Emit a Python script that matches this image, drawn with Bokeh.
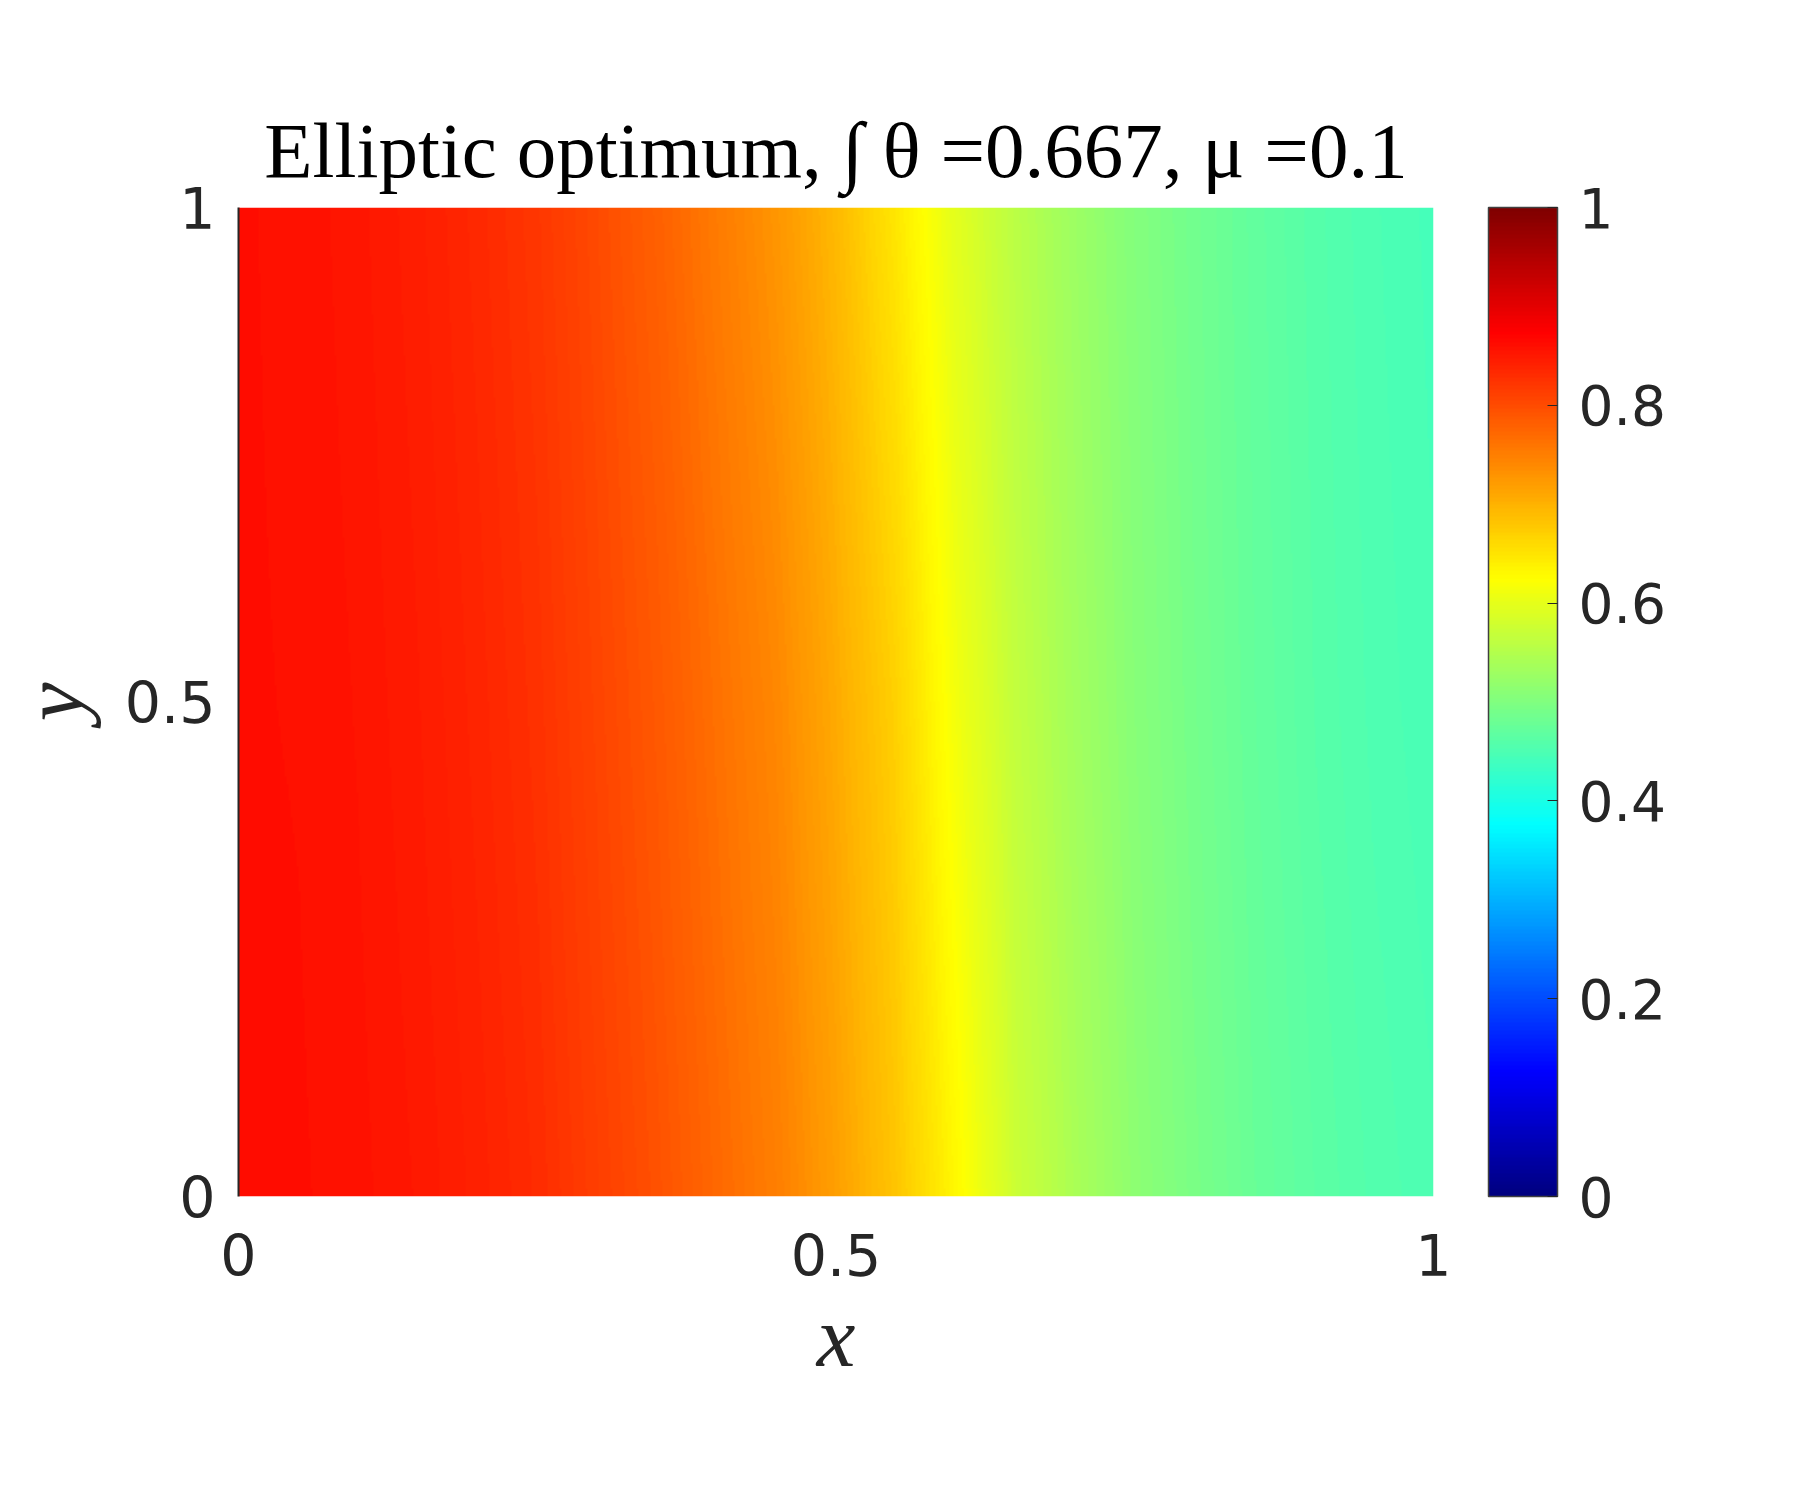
import numpy as np
from bokeh.plotting import figure
from bokeh.models import LinearColorMapper, ColorBar, FixedTicker, Title
from bokeh.embed import file_html
from bokeh.resources import INLINE

# ---- data (theta along x, at three heights) ----
x_nodes = [0.00, 0.05, 0.10, 0.15, 0.20, 0.25, 0.30, 0.35, 0.40, 0.45, 0.50,
           0.55, 0.60, 0.65, 0.70, 0.75, 0.80, 0.85, 0.90, 0.95, 1.00]
y_nodes = [0.0, 0.5, 1.0]
theta_y0 = [0.861, 0.860, 0.857, 0.851, 0.842, 0.831, 0.813, 0.795, 0.772, 0.750, 0.718,
            0.681, 0.632, 0.574, 0.542, 0.514, 0.494, 0.477, 0.465, 0.456, 0.450]
theta_y05 = [0.860, 0.859, 0.855, 0.848, 0.838, 0.826, 0.807, 0.788, 0.764, 0.741, 0.707,
             0.670, 0.613, 0.565, 0.534, 0.508, 0.489, 0.473, 0.461, 0.452, 0.446]
theta_y1 = [0.860, 0.858, 0.853, 0.845, 0.834, 0.821, 0.801, 0.780, 0.754, 0.728, 0.693,
            0.648, 0.597, 0.557, 0.528, 0.504, 0.486, 0.471, 0.459, 0.450, 0.444]

x_ticks = [0, 0.5, 1]
x_tick_labels = ["0", "0.5", "1"]
y_ticks = [0, 0.5, 1]
y_tick_labels = ["0", "0.5", "1"]
cbar_ticks = [0, 0.2, 0.4, 0.6, 0.8, 1]
cbar_tick_labels = ["0", "0.2", "0.4", "0.6", "0.8", "1"]
clim = [0, 1]
title_text = "Elliptic optimum, \u222b \u03b8 =0.667, \u03bc =0.1"
x_label = "x"
y_label = "y"


# ---- jet colormap (256 entries) ----
def jet_palette(n=256):
    cols = []
    for i in range(n):
        v = i / (n - 1)
        r = min(max(1.5 - abs(4 * v - 3), 0), 1)
        g = min(max(1.5 - abs(4 * v - 2), 0), 1)
        b = min(max(1.5 - abs(4 * v - 1), 0), 1)
        cols.append("#%02x%02x%02x" % (int(round(r * 255)), int(round(g * 255)), int(round(b * 255))))
    return cols


mapper = LinearColorMapper(palette=jet_palette(256), low=clim[0], high=clim[1])

p = figure(width=1785, height=1484, x_range=(0, 1), y_range=(0, 1),
           output_backend="svg", toolbar_location=None,
           min_border_left=231, min_border_right=352,
           min_border_top=207, min_border_bottom=288)
p.background_fill_color = "white"
p.border_fill_color = "white"
p.outline_line_color = None
p.grid.visible = False

# Raster for display: colours shaded between the read nodes (as in an
# interpolated-shading surface plot).
node_rows = np.array([theta_y0, theta_y05, theta_y1])
nx_px, ny_px = 600, 120
gx = np.linspace(x_nodes[0], x_nodes[-1], nx_px)
gy = np.linspace(y_nodes[0], y_nodes[-1], ny_px)
rows_x = np.array([np.interp(gx, x_nodes, r) for r in node_rows])
raster = np.array([[np.interp(yy, y_nodes, rows_x[:, j]) for j in range(nx_px)] for yy in gy])
p.image(image=[raster], x=x_nodes[0], y=y_nodes[0],
        dw=x_nodes[-1] - x_nodes[0], dh=y_nodes[-1] - y_nodes[0],
        color_mapper=mapper)

p.title = Title(text=title_text, text_font="Liberation Serif", text_font_size="79px",
                text_font_style="normal", text_color="black", align="center", standoff=27)

for ax, ticks, labels in ((p.xaxis[0], x_ticks, x_tick_labels), (p.yaxis[0], y_ticks, y_tick_labels)):
    ax.ticker = FixedTicker(ticks=ticks)
    ax.major_label_overrides = {t: l for t, l in zip(ticks, labels)}
    ax.major_label_text_font = "DejaVu Sans"
    ax.major_label_text_font_size = "57px"
    ax.major_label_text_color = "#262626"
    ax.major_tick_in = 0
    ax.major_tick_out = 0
    ax.minor_tick_in = 0
    ax.minor_tick_out = 0
    ax.axis_label_text_font = "Liberation Serif"
    ax.axis_label_text_font_style = "italic"
    ax.axis_label_text_font_size = "87px"
    ax.axis_label_text_color = "#262626"

p.xaxis.axis_label = x_label
p.yaxis.axis_label = y_label
p.xaxis.axis_line_color = None
p.yaxis.axis_line_color = "#262626"
p.yaxis.axis_line_width = 2
p.xaxis.major_label_standoff = 37
p.yaxis.major_label_standoff = 23
p.xaxis.axis_label_standoff = 9
p.yaxis.axis_label_standoff = 21

cb = ColorBar(color_mapper=mapper, location=(1250, 0), width=69, height=989,
              padding=0, margin=0,
              ticker=FixedTicker(ticks=cbar_ticks),
              major_label_overrides={t: l for t, l in zip(cbar_ticks, cbar_tick_labels)},
              major_label_text_font="DejaVu Sans", major_label_text_font_size="55px",
              major_label_text_color="#262626",
              major_tick_in=10, major_tick_out=0, major_tick_line_color="#262626",
              minor_tick_in=0, minor_tick_out=0,
              bar_line_color="#404040", bar_line_width=1.5,
              label_standoff=21, background_fill_color=None, border_line_color=None)
p.add_layout(cb, "center")

open("out.html", "w").write(file_html(p, INLINE))
